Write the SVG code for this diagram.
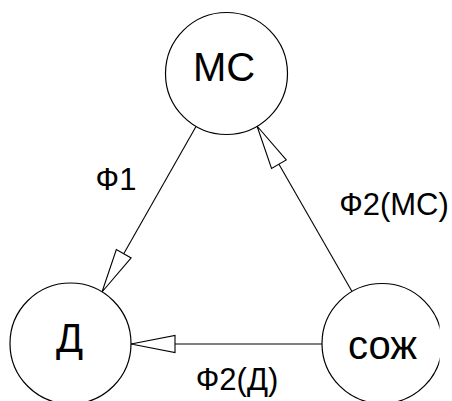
<svg xmlns="http://www.w3.org/2000/svg" width="452" height="401" viewBox="0 0 452 401">
<style>
.node{fill:#fff;stroke:#000;stroke-width:1.2}
.lbl{font-family:"Liberation Sans",Arial,sans-serif;font-size:40px;fill:#000;text-anchor:middle}
.elbl{font-family:"Liberation Sans",Arial,sans-serif;font-size:31px;fill:#000;text-anchor:middle}
.edge{stroke:#000;stroke-width:1.1;fill:none}
</style>
<defs>
<marker id="arr" markerUnits="userSpaceOnUse" viewBox="-1 -10 47 20" refX="44" refY="0" markerWidth="47" markerHeight="20" orient="auto">
<path d="M44,0 L0,-8.5 L0,8.5 Z" fill="#fff" stroke="#000" stroke-width="1.1"/>
</marker>
<clipPath id="clip"><rect x="0" y="0" width="439.5" height="401"/></clipPath>
</defs>
<rect width="452" height="401" fill="#fff"/>
<g id="edges">
<line class="edge" x1="196" y1="126.5" x2="102" y2="292" marker-end="url(#arr)"/>
<line class="edge" x1="352" y1="291.5" x2="257" y2="126" marker-end="url(#arr)"/>
<line class="edge" x1="322" y1="344" x2="131" y2="344" marker-end="url(#arr)"/>
<text class="elbl" x="116" y="190">Ф1</text>
<text class="elbl" x="394" y="215">Ф2(МС)</text>
<text class="elbl" x="237" y="390">Ф2(Д)</text>
</g>
<g id="node-MC">
<circle class="node" cx="226.5" cy="73.5" r="61"/>
<text class="lbl" x="224" y="81">МС</text>
</g>
<g id="node-D">
<circle class="node" cx="70.5" cy="343.5" r="60.5"/>
<text class="lbl" x="69.5" y="352">Д</text>
</g>
<g id="node-SOZh" clip-path="url(#clip)">
<circle class="node" cx="382" cy="343.5" r="60"/>
<text class="lbl" x="382.5" y="359">сож</text>
</g>
</svg>
